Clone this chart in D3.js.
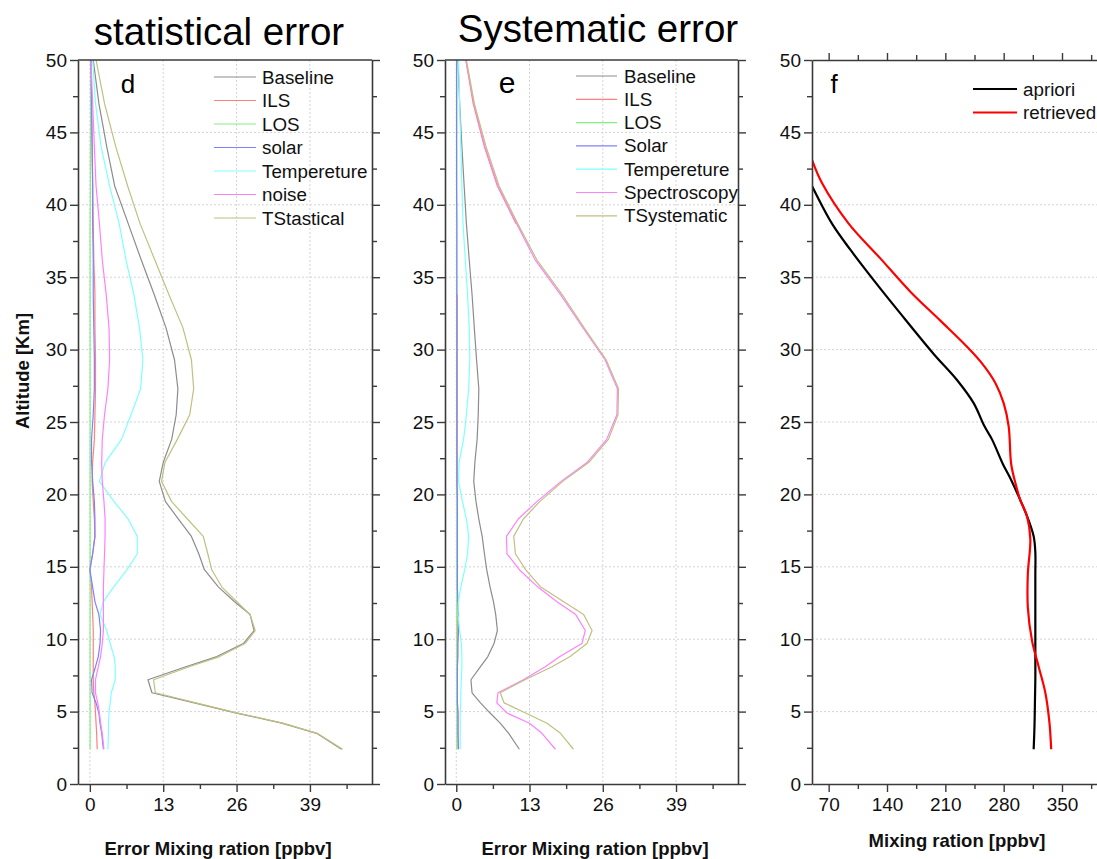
<!DOCTYPE html>
<html>
<head>
<meta charset="utf-8">
<script src="https://cdn.jsdelivr.net/npm/d3@7"></script>
<style>
  html, body { margin: 0; padding: 0; background: #fff; }
  svg { display: block; font-family: "Liberation Sans", Arial, sans-serif; }
</style>
</head>
<body>
<svg id="chart" width="1097" height="859"></svg>
<script>
// Altitude grid (km) shared by the error profiles
const altitude = [2.4, 3.5, 4.2, 4.9, 5.6, 6.3, 7.2, 8.1, 8.8, 9.7, 10.6, 11.7, 12.6, 13.6, 14.8, 15.9,
  17.1, 18.3, 19.5, 20.9, 22.2, 23.8, 25.5, 27.3, 29.3, 31.5, 33.8, 36.2, 38.7, 41.3, 44.0, 47.0, 50.0];

// Statistical error components (ppbv)
const statBaseline = [44.6, 40.2, 34.0, 26.0, 18.5, 11.0, 10.3, 17.0, 22.5, 27.2, 29.1, 28.4, 25.6, 22.8, 20.3, 19.3,
  18.0, 15.7, 13.4, 12.3, 13.0, 14.5, 15.3, 15.6, 15.0, 13.5, 11.4, 9.1, 6.8, 4.4, 3.0, 1.6, 0.6];
const statILS = [1.3, 1.2, 1.1, 1.0, 0.9, 0.7, 0.6, 0.6, 0.6, 0.6, 0.6, 0.5, 0.4, 0.3, 0.0, 0.5,
  0.9, 0.8, 0.6, 0.4, 0.5, 0.8, 0.9, 1.0, 1.0, 0.9, 0.9, 0.7, 0.6, 0.5, 0.4, 0.3, 0.2];
const statLOS = [0.05, 0.05, 0.05, 0.05, 0.05, 0.05, 0.05, 0.05, 0.05, 0.05, 0.05, 0.05, 0.05, 0.05, 0.05, 0.05,
  0.05, 0.05, 0.05, 0.05, 0.05, 0.05, 0.05, 0.05, 0.05, 0.05, 0.05, 0.05, 0.05, 0.1, 0.1, 0.15, 0.2];
const statSolar = [2.4, 2.1, 1.8, 1.6, 1.1, 0.4, 0.3, 1.0, 1.5, 1.8, 1.9, 1.6, 0.9, 0.5, 0.0, 0.5,
  0.9, 0.9, 0.8, 0.5, 0.3, 0.3, 0.6, 0.8, 0.8, 0.7, 0.6, 0.6, 0.5, 0.5, 0.4, 0.3, 0.2];
const statTemperature = [3.2, 3.3, 3.3, 3.4, 3.6, 3.8, 4.5, 4.5, 4.3, 3.6, 3.0, 1.8, 2.4, 4.2, 6.6, 8.4,
  8.4, 6.8, 4.3, 1.7, 2.7, 5.6, 7.3, 9.0, 9.4, 8.8, 7.8, 6.4, 5.2, 3.5, 2.0, 1.0, 0.5];
const statNoise = [2.5, 2.2, 1.9, 1.7, 1.4, 1.0, 1.0, 1.5, 1.9, 2.2, 2.4, 2.4, 2.4, 2.4, 2.5, 2.6,
  2.7, 2.7, 2.5, 2.2, 2.1, 2.2, 2.6, 3.2, 3.5, 3.4, 2.9, 2.2, 1.7, 1.1, 0.8, 0.5, 0.2];
const statTotal = [44.8, 40.3, 34.2, 26.2, 18.8, 11.6, 11.3, 17.6, 23.0, 27.5, 29.3, 28.4, 26.0, 23.4, 21.6, 20.9,
  20.1, 17.3, 14.5, 12.7, 13.3, 15.5, 17.7, 18.4, 18.0, 16.5, 14.0, 11.5, 8.9, 6.7, 4.6, 2.6, 1.1];

// Systematic error components (ppbv); ILS is missing at 36.2 km
const sysBaseline = [11.2, 9.3, 7.8, 6.0, 4.3, 2.8, 2.6, 4.3, 5.6, 6.7, 7.3, 7.0, 6.6, 6.0, 5.4, 5.0,
  4.6, 4.0, 3.5, 3.1, 3.3, 3.7, 3.9, 4.0, 3.6, 3.2, 2.8, 2.3, 1.8, 1.4, 1.0, 0.6, 0.3];
const sysILS = [0.3, 0.3, 0.3, 0.3, 0.2, 0.2, 0.2, 0.2, 0.2, 0.2, 0.2, 0.2, 0.2, 0.2, 0.2, 0.2,
  0.2, 0.2, 0.2, 0.2, 0.2, 0.2, 0.2, 0.2, 0.2, 0.2, 0.2, null, 10.6, 7.3, 5.0, 3.0, 1.7];
const sysLOS = [0.1, 0.1, 0.1, 0.1, 0.1, 0.1, 0.1, 0.1, 0.1, 0.1, 0.1, 0.1, 0.1, 0.1, 0.1, 0.1,
  0.1, 0.1, 0.1, 0.1, 0.1, 0.1, 0.1, 0.1, 0.1, 0.1, 0.1, 0.1, 0.1, 0.1, 0.1, 0.1, 0.1];
const sysSolar = [0.4, 0.3, 0.3, 0.3, 0.2, 0.2, 0.2, 0.2, 0.3, 0.3, 0.4, 0.4, 0.3, 0.2, 0.2, 0.2,
  0.2, 0.2, 0.2, 0.1, 0.1, 0.1, 0.1, 0.1, 0.1, 0.1, 0.1, 0.1, 0.1, 0.05, 0.05, 0.05, 0.05];
const sysTemperature = [0.7, 0.7, 0.7, 0.7, 0.8, 0.8, 0.9, 1.0, 1.0, 0.9, 0.6, 0.3, 0.4, 0.8, 1.5, 2.0,
  2.2, 1.8, 1.1, 0.4, 0.5, 1.3, 1.8, 2.2, 2.4, 2.3, 2.0, 1.6, 1.2, 1.0, 0.8, 0.6, 0.4];
const sysSpectroscopy = [17.6, 15.2, 13.0, 9.0, 7.2, 7.4, 11.9, 15.8, 18.4, 22.3, 22.9, 21.2, 17.8, 14.5, 11.2, 9.0,
  8.9, 11.0, 14.3, 18.6, 23.2, 26.7, 28.5, 28.6, 26.4, 22.5, 18.5, 14.0, 10.7, 7.4, 5.1, 3.1, 1.7];
const sysTotal = [20.8, 18.5, 16.1, 12.3, 8.5, 7.8, 12.2, 17.0, 20.2, 23.2, 24.1, 22.6, 19.0, 15.0, 12.3, 10.5,
  10.2, 11.9, 14.8, 18.9, 23.5, 27.0, 28.7, 28.8, 26.6, 22.7, 18.8, 14.3, 10.9, 7.6, 5.3, 3.2, 1.8];

// Mixing-ratio profiles (ppbv)
const aprioriAltitude = [2.4, 4.0, 5.6, 7.2, 8.8, 10.2, 12.0, 14.5, 16.0, 17.1, 18.5, 19.6, 21.0, 22.1, 23.8,
  24.7, 26.3, 27.9, 29.7, 32.5, 34.8, 36.9, 38.7, 41.3];
const aprioriValue = [316, 317, 317.5, 318, 318, 318, 318, 318, 318, 316, 308, 300, 289, 279, 266,
  257, 244, 224, 196, 156, 124, 96, 74, 50];
const retrievedAltitude = [2.4, 4.2, 6.3, 8.1, 9.9, 12.2, 14.5, 16.9, 18.5, 19.6, 20.8, 22.1, 24.7, 26.3,
  27.7, 29.05, 30.2, 32.0, 34.0, 36.3, 38.7, 41.5, 43.1];
const retrievedValue = [337, 335, 330, 322, 314, 309, 309, 312, 308, 300, 294, 289, 286, 280,
  270, 254, 236, 204, 168, 132, 94, 62, 50];

// Legend names and colours
const statNames = ["Baseline", "ILS", "LOS", "solar", "Tempereture", "noise", "TStastical"];
const sysNames = ["Baseline", "ILS", "LOS", "Solar", "Tempereture", "Spectroscopy", "TSystematic"];
const errorColors = ["#8c8c8c", "#ff8080", "#80f080", "#8080ff", "#80ffff", "#ff80ff", "#c0c080"];
const profileNames = ["apriori", "retrieved"];
const profileColors = ["#000000", "#ff0000"];

// Axis ticks
const altTicks = [0, 5, 10, 15, 20, 25, 30, 35, 40, 45, 50];
const altMinor = [2.5, 7.5, 12.5, 17.5, 22.5, 27.5, 32.5, 37.5, 42.5, 47.5];
const errTicks = [0, 13, 26, 39];
const errMinor = [6.5, 19.5, 32.5, 45.5];
const mixTicks = [70, 140, 210, 280, 350];
const mixMinor = [105, 175, 245, 315, 385];

const svg = d3.select("#chart");
const plotTop = 60, plotBottom = 784;
const y = d3.scaleLinear().domain([0, 50]).range([plotBottom, plotTop]);
const frameColor = "#3a3a3a";
const tickFont = 19;
const legendFont = 18.8;

function zip(alts, vals) {
  return alts.map((a, i) => ({ alt: a, v: vals[i] }));
}

function drawPanel(opt) {
  const x = opt.x;
  const [x0, x1] = x.range();
  const g = svg.append("g");
  const clipId = "clip-" + opt.id;
  svg.append("clipPath").attr("id", clipId)
    .append("rect").attr("x", x0).attr("y", plotTop).attr("width", x1 - x0).attr("height", plotBottom - plotTop);

  // dotted grid
  const grid = g.append("g").attr("stroke", "#d4d4d4").attr("stroke-width", 1).attr("stroke-dasharray", "2,2");
  altTicks.filter(t => t > 0 && t < 50).forEach(t => {
    grid.append("line").attr("x1", x0).attr("x2", x1).attr("y1", y(t)).attr("y2", y(t));
  });
  if (opt.vGrid) {
    opt.ticks.filter(t => t > x.domain()[0]).forEach(t => {
      grid.append("line").attr("x1", x(t)).attr("x2", x(t)).attr("y1", plotTop).attr("y2", plotBottom);
    });
  }

  // data lines
  const lines = g.append("g").attr("clip-path", `url(#${clipId})`).attr("fill", "none");
  opt.series.forEach(s => {
    const line = d3.line()
      .defined(d => d.v !== null)
      .x(d => x(d.v)).y(d => y(d.alt))
      .curve(opt.curve || d3.curveLinear);
    lines.append("path")
      .datum(zip(s.alt, s.values))
      .attr("d", line)
      .attr("stroke", s.color)
      .attr("stroke-width", opt.lineWidth)
      .attr("stroke-linejoin", "round");
  });

  // axes
  const axisStyle = sel => {
    sel.select(".domain").attr("stroke", frameColor).attr("stroke-width", 1.6);
    sel.selectAll(".tick line").attr("stroke", frameColor).attr("stroke-width", 1.4);
    sel.selectAll("text").attr("font-size", tickFont).attr("fill", "#111").attr("font-family", "Liberation Sans, Arial, sans-serif");
  };
  g.append("g").attr("transform", `translate(0,${plotBottom})`)
    .call(d3.axisBottom(x).tickValues(opt.ticks).tickSize(8).tickSizeOuter(0).tickPadding(6).tickFormat(d3.format("d")))
    .call(axisStyle);
  g.append("g").attr("transform", `translate(0,${plotBottom})`)
    .call(d3.axisBottom(x).tickValues(opt.minor).tickSize(5).tickSizeOuter(0).tickFormat(""))
    .call(axisStyle).call(s => s.select(".domain").remove());
  g.append("g").attr("transform", `translate(${x0},0)`)
    .call(d3.axisLeft(y).tickValues(altTicks).tickSize(8).tickSizeOuter(0).tickPadding(3).tickFormat(d3.format("d")))
    .call(axisStyle);
  g.append("g").attr("transform", `translate(${x0},0)`)
    .call(d3.axisLeft(y).tickValues(altMinor).tickSize(5).tickSizeOuter(0).tickFormat(""))
    .call(axisStyle).call(s => s.select(".domain").remove());

  if (opt.rightTicks) {
    g.append("g").attr("transform", `translate(${x1},0)`)
      .call(d3.axisRight(y).tickValues(altTicks).tickSize(8).tickSizeOuter(0).tickFormat(""))
      .call(axisStyle);
    g.append("g").attr("transform", `translate(${x1},0)`)
      .call(d3.axisRight(y).tickValues(altMinor).tickSize(5).tickSizeOuter(0).tickFormat(""))
      .call(axisStyle).call(s => s.select(".domain").remove());
  }
  if (opt.topTicks) {
    g.append("g").attr("transform", `translate(0,${plotTop})`)
      .call(d3.axisTop(x).tickValues(opt.ticks).tickSize(7).tickSizeOuter(0).tickFormat(""))
      .call(axisStyle);
    g.append("g").attr("transform", `translate(0,${plotTop})`)
      .call(d3.axisTop(x).tickValues(opt.minor).tickSize(5).tickSizeOuter(0).tickFormat(""))
      .call(axisStyle).call(s => s.select(".domain").remove());
  } else {
    g.append("line").attr("x1", x0).attr("x2", x1).attr("y1", plotTop).attr("y2", plotTop)
      .attr("stroke", frameColor).attr("stroke-width", 1.6);
  }

  // panel letter
  g.append("text").attr("x", opt.letterX).attr("y", 93).attr("text-anchor", "middle")
    .attr("font-size", opt.letterSize).attr("fill", "#000").text(opt.letter);

  // legend
  const lg = g.append("g");
  opt.series.forEach((s, i) => {
    const cy = opt.legend.y0 + i * opt.legend.dy;
    lg.append("line").attr("x1", opt.legend.x0).attr("x2", opt.legend.x1)
      .attr("y1", cy).attr("y2", cy).attr("stroke", s.color).attr("stroke-width", opt.legendWidth);
    lg.append("text").attr("x", opt.legend.tx).attr("y", cy).attr("dy", "0.35em")
      .attr("font-size", legendFont).attr("fill", "#111").text(s.name);
  });

  // x-axis title
  g.append("text").attr("x", opt.titleX).attr("y", opt.titleY).attr("text-anchor", "middle")
    .attr("font-size", 18.5).attr("font-weight", "bold").attr("fill", "#111").text(opt.xTitle);
}

const statValues = [statBaseline, statILS, statLOS, statSolar, statTemperature, statNoise, statTotal];
const sysValues = [sysBaseline, sysILS, sysLOS, sysSolar, sysTemperature, sysSpectroscopy, sysTotal];

drawPanel({
  id: "d",
  x: d3.scaleLinear().domain([-2.1, 50]).range([78, 372]),
  ticks: errTicks, minor: errMinor, vGrid: true, rightTicks: true, topTicks: false,
  series: statNames.map((n, i) => ({ name: n, color: errorColors[i], alt: altitude, values: statValues[i] })),
  lineWidth: 1.2, legendWidth: 1.2,
  letter: "d", letterX: 128, letterSize: 26,
  legend: { x0: 214, x1: 256, tx: 262, y0: 77, dy: 23.5 },
  xTitle: "Error Mixing ration [ppbv]", titleX: 218, titleY: 855
});

drawPanel({
  id: "e",
  x: d3.scaleLinear().domain([-2, 50]).range([445, 738]),
  ticks: errTicks, minor: errMinor, vGrid: true, rightTicks: true, topTicks: false,
  series: sysNames.map((n, i) => ({ name: n, color: errorColors[i], alt: altitude, values: sysValues[i] })),
  lineWidth: 1.2, legendWidth: 1.2,
  letter: "e", letterX: 507, letterSize: 30,
  legend: { x0: 576, x1: 617, tx: 624, y0: 76, dy: 23.3 },
  xTitle: "Error Mixing ration [ppbv]", titleX: 595, titleY: 855
});

drawPanel({
  id: "f",
  x: d3.scaleLinear().domain([50, 392]).range([812, 1097]),
  ticks: mixTicks, minor: mixMinor, vGrid: false, rightTicks: false, topTicks: true,
  series: [
    { name: profileNames[0], color: profileColors[0], alt: aprioriAltitude, values: aprioriValue },
    { name: profileNames[1], color: profileColors[1], alt: retrievedAltitude, values: retrievedValue }
  ],
  curve: d3.curveCatmullRom,
  lineWidth: 2.2, legendWidth: 2.2,
  letter: "f", letterX: 834, letterSize: 26,
  legend: { x0: 973, x1: 1017, tx: 1023, y0: 89, dy: 23.5 },
  xTitle: "Mixing ration [ppbv]", titleX: 957, titleY: 847
});

// panel titles
svg.append("text").attr("x", 219).attr("y", 45).attr("text-anchor", "middle")
  .attr("font-size", 38.5).attr("fill", "#000").text("statistical error");
svg.append("text").attr("x", 598).attr("y", 42).attr("text-anchor", "middle")
  .attr("font-size", 38.5).attr("fill", "#000").text("Systematic error");

// shared y-axis title
svg.append("text").attr("transform", "translate(29,371) rotate(-90)").attr("text-anchor", "middle")
  .attr("font-size", 18.5).attr("font-weight", "bold").attr("fill", "#111").text("Altitude [Km]");
</script>
</body>
</html>
